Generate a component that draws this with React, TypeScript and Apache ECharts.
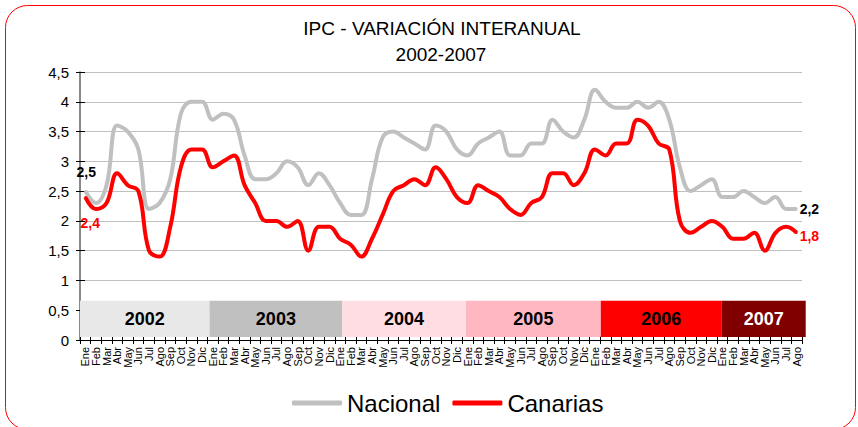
import React, { useEffect, useRef } from 'react';
import * as echarts from 'echarts';

const monthNames = ['Ene', 'Feb', 'Mar', 'Abr', 'May', 'Jun', 'Jul', 'Ago', 'Sep', 'Oct', 'Nov', 'Dic'];
const years = ['2002', '2003', '2004', '2005', '2006', '2007'];
const monthsPerYear = [12, 12, 12, 12, 12, 8];
const categories: string[] = years.flatMap((_, i) => monthNames.slice(0, monthsPerYear[i]));

const nacional = [
  2.5, 2.3, 2.6, 3.6, 3.5, 3.2, 2.2, 2.3, 2.7, 3.8, 4.0, 4.0,
  3.7, 3.8, 3.7, 3.1, 2.7, 2.7, 2.8, 3.0, 2.9, 2.6, 2.8, 2.6,
  2.3, 2.1, 2.1, 2.7, 3.4, 3.5, 3.4, 3.3, 3.2, 3.6, 3.5, 3.2,
  3.1, 3.3, 3.4, 3.5, 3.1, 3.1, 3.3, 3.3, 3.7, 3.5, 3.4, 3.7,
  4.2, 4.0, 3.9, 3.9, 4.0, 3.9, 4.0, 3.7, 2.9, 2.5, 2.6, 2.7,
  2.4, 2.4, 2.5, 2.4, 2.3, 2.4, 2.2, 2.2,
];

const canarias = [
  2.4, 2.2, 2.3, 2.8, 2.6, 2.5, 1.5, 1.4, 1.9, 2.9, 3.2, 3.2,
  2.9, 3.0, 3.1, 2.6, 2.3, 2.0, 2.0, 1.9, 2.0, 1.5, 1.9, 1.9,
  1.7, 1.6, 1.4, 1.7, 2.1, 2.5, 2.6, 2.7, 2.6, 2.9, 2.7, 2.4,
  2.3, 2.6, 2.5, 2.4, 2.2, 2.1, 2.3, 2.4, 2.8, 2.8, 2.6, 2.8,
  3.2, 3.1, 3.3, 3.3, 3.7, 3.6, 3.3, 3.2, 2.0, 1.8, 1.9, 2.0,
  1.9, 1.7, 1.7, 1.8, 1.5, 1.8, 1.9, 1.8,
];

// year bands, in month units along the category axis
const bandStart = [0, 12.2, 24.7, 36.35, 49.05, 60.45];
const bandEnd = [12.2, 24.7, 36.35, 49.05, 60.45, 68.35];
const bandTop = 0.66;
const bandBottom = 0.05;
const bandColors = ['#e8e8e8', '#c0c0c0', '#ffdde2', '#ffb8c2', '#ff0000', '#800000'];
const bandTextColors = ['#000', '#000', '#000', '#000', '#000', '#fff'];

const FONT = '"Liberation Sans", Arial, sans-serif';
const fmt = (v: number) => v.toFixed(1).replace('.', ',');

function withEndLabels(values: number[], color: string, first: any, last: any) {
  return values.map((v, i) => {
    if (i === 0) return { value: v, label: { show: true, color, ...first } };
    if (i === values.length - 1) return { value: v, label: { show: true, color, ...last } };
    return v;
  });
}

const labelBase = {
  fontFamily: FONT,
  fontSize: 14,
  fontWeight: 'bold',
  formatter: (p: any) => fmt(p.value),
};

export default function App() {
  const ref = useRef<HTMLDivElement>(null);
  useEffect(() => {
    document.body.style.margin = '0';
    const chart = echarts.init(ref.current!, null, { renderer: 'svg' });
    const option: any = {
      animation: false,
      backgroundColor: '#fff',
      textStyle: { fontFamily: FONT },
      grid: { left: 80, right: 56, top: 72, bottom: 87, containLabel: false },
      graphic: [
        {
          type: 'rect',
          silent: true,
          shape: { x: 5.5, y: 5.5, width: 850, height: 424, r: 22 },
          style: { fill: 'none', stroke: '#ff0000', lineWidth: 1 },
          z: 100,
        },
        {
          type: 'text',
          silent: true,
          style: {
            text: 'IPC - VARIACIÓN INTERANUAL',
            x: 442, y: 28.5,
            align: 'center', verticalAlign: 'middle',
            font: `19px ${FONT}`, fill: '#000',
          },
        },
        {
          type: 'text',
          silent: true,
          style: {
            text: '2002-2007',
            x: 441, y: 54.5,
            align: 'center', verticalAlign: 'middle',
            font: `19px ${FONT}`, fill: '#000',
          },
        },
      ],
      legend: {
        data: ['Nacional', 'Canarias'],
        left: 287,
        top: 386,
        icon: 'roundRect',
        itemWidth: 50,
        itemHeight: 5,
        itemGap: 12,
        textStyle: { fontSize: 24, color: '#000', fontFamily: FONT },
      },
      xAxis: [
        {
          type: 'category',
          data: categories,
          boundaryGap: true,
          position: 'bottom',
          axisLine: { lineStyle: { color: '#000', width: 1 } },
          axisTick: { show: true, interval: 0, length: 4, lineStyle: { color: '#000' } },
          axisLabel: { interval: 0, rotate: 90, fontSize: 11, color: '#000', margin: 7, fontFamily: FONT },
          splitLine: { show: false },
        },
        {
          type: 'category',
          data: categories,
          boundaryGap: true,
          position: 'bottom',
          axisLine: { show: false },
          axisTick: { show: true, inside: true, interval: 0, length: 4, lineStyle: { color: '#000' } },
          axisLabel: { show: false },
          splitLine: { show: false },
        },
      ],
      yAxis: [
        {
          type: 'value',
          min: 0,
          max: 4.5,
          interval: 0.5,
          position: 'left',
          axisLine: { show: true, lineStyle: { color: '#606060', width: 1.5 } },
          axisTick: { show: true, length: 4, lineStyle: { color: '#000' } },
          axisLabel: {
            fontSize: 15, color: '#000', margin: 11, fontFamily: FONT,
            formatter: (v: number) => String(v).replace('.', ','),
          },
          splitLine: { show: true, lineStyle: { color: '#c0c0c0', width: 1 } },
        },
        {
          type: 'value',
          min: 0,
          max: 4.5,
          interval: 0.5,
          position: 'left',
          axisLine: { show: false },
          axisTick: { show: true, inside: true, length: 5, lineStyle: { color: '#000' } },
          axisLabel: { show: false },
          splitLine: { show: false },
        },
      ],
      series: [
        {
          type: 'custom',
          name: 'años',
          xAxisIndex: 0,
          yAxisIndex: 0,
          clip: false,
          silent: true,
          z: 1,
          data: years.map((_, i) => [i, bandTop]),
          renderItem: (params: any, api: any) => {
            const i = params.dataIndex;
            const step = api.size([1, 0])[0];
            const origin = api.coord([0, 0]);
            const left0 = origin[0] - step / 2;
            const x0 = left0 + bandStart[i] * step;
            const x1 = left0 + bandEnd[i] * step;
            const yTop = api.coord([0, bandTop])[1];
            const yBot = api.coord([0, bandBottom])[1];
            return {
              type: 'group',
              children: [
                {
                  type: 'rect',
                  shape: { x: x0, y: yTop, width: x1 - x0, height: yBot - yTop },
                  style: { fill: bandColors[i] },
                },
                {
                  type: 'text',
                  style: {
                    text: years[i],
                    x: (x0 + x1) / 2,
                    y: (yTop + yBot) / 2,
                    align: 'center',
                    verticalAlign: 'middle',
                    font: `bold 18px ${FONT}`,
                    fill: bandTextColors[i],
                  },
                },
              ],
            };
          },
        },
        {
          name: 'Nacional',
          type: 'line',
          smooth: 0.4,
          showSymbol: true,
          showAllSymbol: true,
          symbol: 'circle',
          symbolSize: 2,
          z: 3,
          lineStyle: { color: '#c0c0c0', width: 4 },
          itemStyle: { color: '#c0c0c0' },
          data: withEndLabels(
            nacional,
            '#000',
            { ...labelBase, position: 'top', distance: 5, offset: [1, -6] },
            { ...labelBase, position: 'right', distance: 2, offset: [0, 0] },
          ),
        },
        {
          name: 'Canarias',
          type: 'line',
          smooth: 0.4,
          showSymbol: true,
          showAllSymbol: true,
          symbol: 'circle',
          symbolSize: 2,
          z: 4,
          lineStyle: { color: '#ff0000', width: 4 },
          itemStyle: { color: '#ff0000' },
          data: withEndLabels(
            canarias,
            '#ff0000',
            { ...labelBase, position: 'bottom', distance: 5, offset: [5, 13] },
            { ...labelBase, position: 'right', distance: 2, offset: [0, 3] },
          ),
        },
      ],
    };
    chart.setOption(option);
    return () => chart.dispose();
  }, []);
  return <div ref={ref} style={{ width: 858, height: 427 }} />;
}
